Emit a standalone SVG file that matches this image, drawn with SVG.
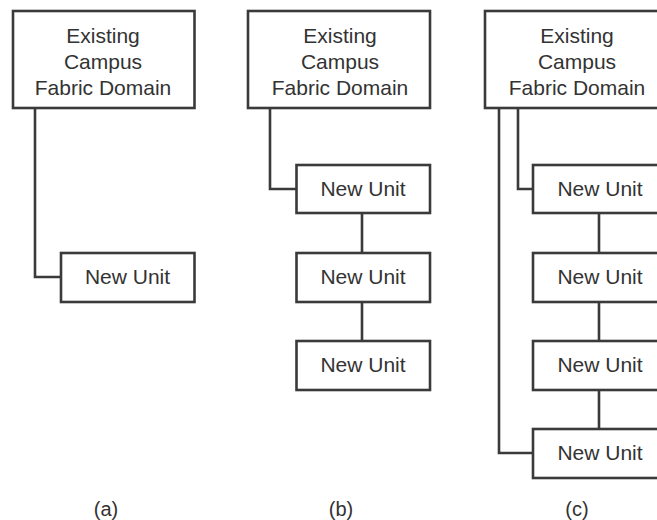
<svg xmlns="http://www.w3.org/2000/svg" width="657" height="520" viewBox="0 0 657 520">
<style>
rect{fill:#fff;stroke:#3a3a3a;stroke-width:2.6}
path{fill:none;stroke:#3a3a3a;stroke-width:2.6}
text{font-family:"Liberation Sans",Arial,sans-serif;font-size:21px;fill:#333;text-anchor:middle}
text.cap{font-size:20px}
</style>
<rect width="657" height="520" style="fill:#fff;stroke:none"/>
<g id="connectors">
<path d="M35 108V277H61"/>
<path d="M270 108V189H296.5M362 213V253M362 302V341"/>
<path d="M518 108V189H533M499 108V453H533M599 213V253M599 302V341M599 390V429"/>
</g>
<g id="a-domain"><rect x="13" y="11" width="181.500" height="97"/><text x="103" y="43">Existing</text><text x="103" y="69">Campus</text><text x="103" y="95">Fabric Domain</text></g>
<g id="a-unit1"><rect x="61" y="253" width="133.500" height="49"/><text x="127.500" y="284">New Unit</text></g>
<g id="b-domain"><rect x="248" y="11" width="182" height="97"/><text x="340" y="43">Existing</text><text x="340" y="69">Campus</text><text x="340" y="95">Fabric Domain</text></g>
<g id="b-unit1"><rect x="296.500" y="165" width="133.500" height="48"/><text x="363" y="196">New Unit</text></g>
<g id="b-unit2"><rect x="296.500" y="253" width="133.500" height="49"/><text x="363" y="284">New Unit</text></g>
<g id="b-unit3"><rect x="296.500" y="341" width="133.500" height="49"/><text x="363" y="372">New Unit</text></g>
<g id="c-domain"><rect x="485" y="11" width="181" height="97"/><text x="577" y="43">Existing</text><text x="577" y="69">Campus</text><text x="577" y="95">Fabric Domain</text></g>
<g id="c-unit1"><rect x="533" y="165" width="133" height="48"/><text x="600" y="196">New Unit</text></g>
<g id="c-unit2"><rect x="533" y="253" width="133" height="49"/><text x="600" y="284">New Unit</text></g>
<g id="c-unit3"><rect x="533" y="341" width="133" height="49"/><text x="600" y="372">New Unit</text></g>
<g id="c-unit4"><rect x="533" y="429" width="133" height="49"/><text x="600" y="460">New Unit</text></g>
<text class="cap" x="106" y="516">(a)</text>
<text class="cap" x="341" y="516">(b)</text>
<text class="cap" x="577" y="516">(c)</text>
</svg>
